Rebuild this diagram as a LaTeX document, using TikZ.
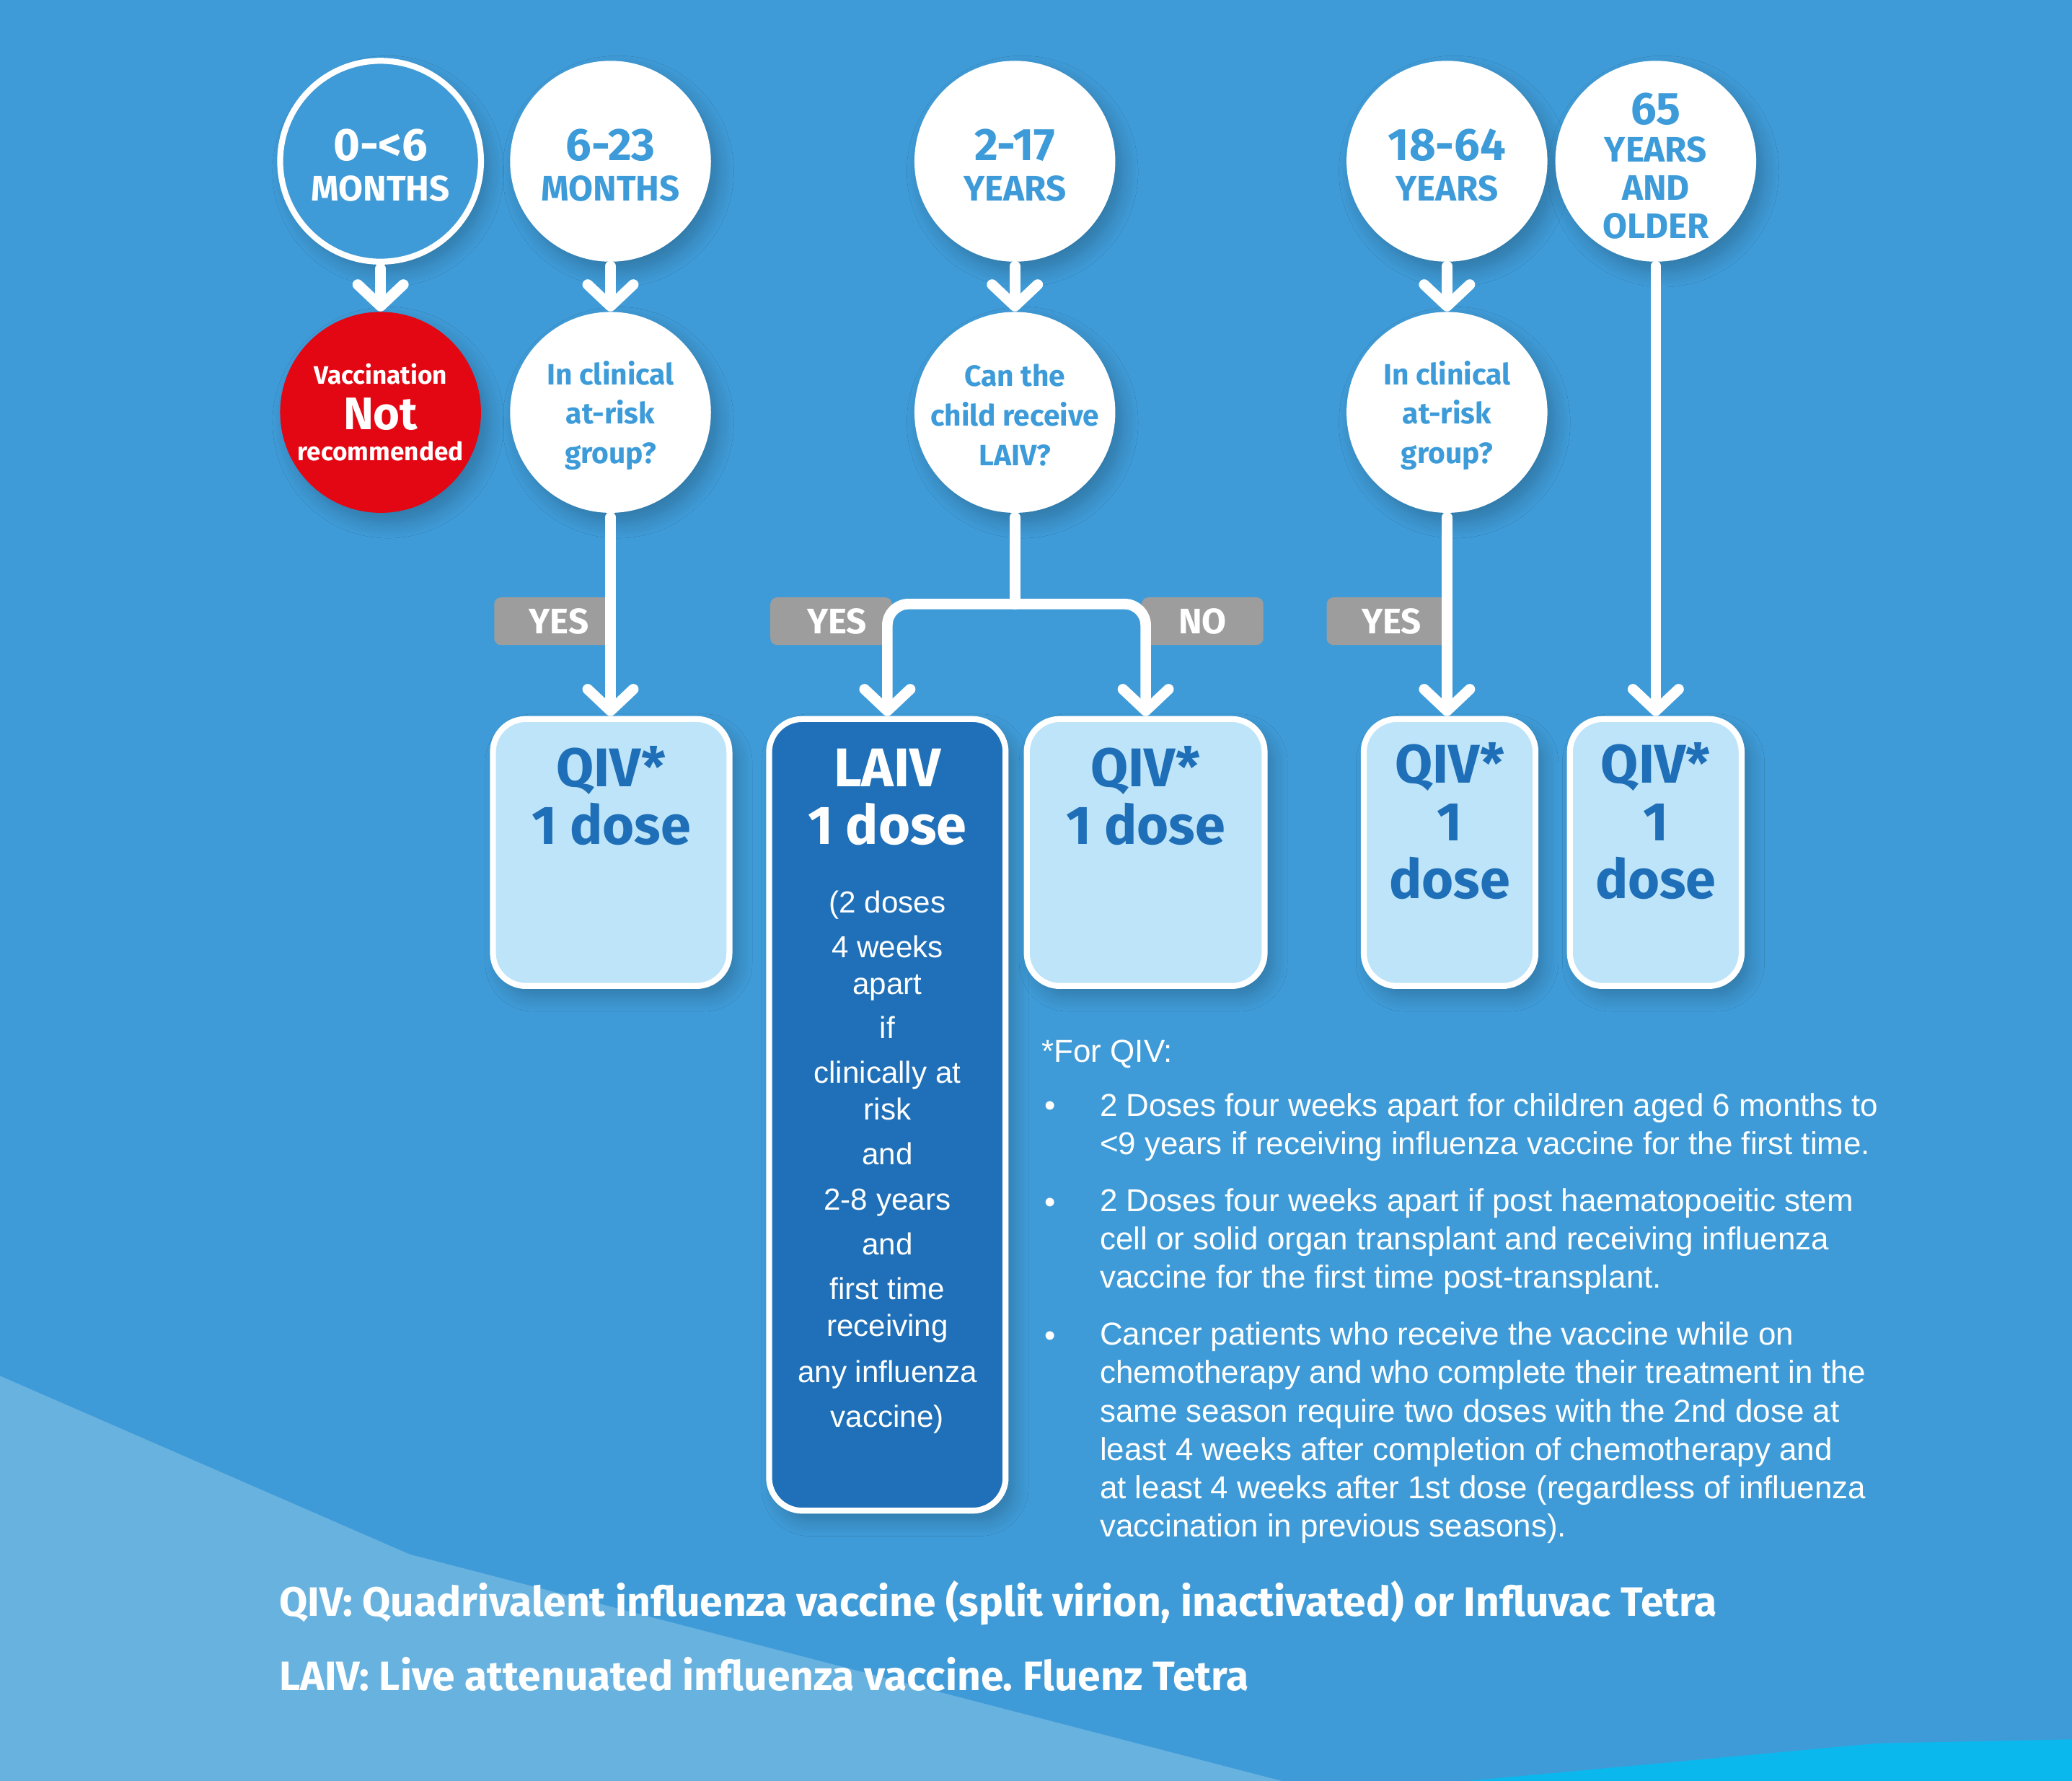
\documentclass[tikz,border=0pt]{standalone}
\usepackage{fontspec}
\setmainfont{Liberation Sans}
\newfontfamily\dinfont{Fira Sans}
\usetikzlibrary{arrows.meta,shadows.blur}
\AtBeginDocument{\lineskiplimit=-100pt\relax\frenchspacing}
\newdimen\pxu \pxu=0.52134pt
\newcommand\fsz[2]{\fontsize{#1}{#2}\selectfont}
\newcommand\up[1]{\rule{0pt}{#1}}
\definecolor{bgblue}{RGB}{63,155,215}
\definecolor{clight}{RGB}{104,178,224}
\definecolor{ccyan}{RGB}{11,184,238}
\definecolor{cbox}{RGB}{190,228,249}
\definecolor{cdark}{RGB}{31,112,184}
\definecolor{cdtext}{RGB}{30,111,183}
\definecolor{cblue}{RGB}{60,155,216}
\definecolor{cgray}{RGB}{157,157,157}
\definecolor{cred}{RGB}{227,6,19}
\begin{document}
\begin{tikzpicture}[x=0.018323cm, y=-0.018323cm,
  sh/.style={blur shadow={shadow xshift=3pt, shadow yshift=-4pt, shadow blur steps=8, shadow opacity=22, shadow blur radius=6pt}},
  age/.style={circle, minimum size=152*\pxu, inner sep=0pt, fill=white, text=cblue, align=center, font=\dinfont\bfseries\fsz{14}{16}, sh},
  agering/.style={age, fill=bgblue, draw=white, line width=4.5*\pxu, text=white},
  ques/.style={age, font=\dinfont\bfseries\fsz{11.6}{15.6}},
  redc/.style={age, fill=cred, text=white, font=\dinfont\bfseries\fsz{10}{12.3}},
  box/.style={rectangle, rounded corners=25*\pxu, draw=white, line width=4.5*\pxu, fill=cbox, minimum height=202*\pxu, inner sep=0pt, sh},
  darkbox/.style={box, fill=cdark},
  boxtxt/.style={anchor=base, align=center, text=cdtext, inner sep=0pt, font=\dinfont\bfseries\fsz{21.5}{22.8}},
  tag/.style={rectangle, rounded corners=5*\pxu, fill=cgray, text=white, font=\dinfont\bfseries\fsz{14}{14}, minimum height=36*\pxu, inner sep=0pt},
  conn/.style={draw=white, line width=8*\pxu, line cap=round, line join=round},
  arr/.style={conn, -{Straight Barb[length=8.5pt,width=18pt,round]}, shorten <=3*\pxu},
  bodytxt/.style={text=white, inner sep=0pt, font=\fsz{12.5}{15.1}},
  legend/.style={anchor=base west, text=white, inner sep=0pt, font=\dinfont\bfseries\fsz{16.2}{16}}
]
% background
\fill[bgblue] (0,0) rectangle (1568,1347.5);
\fill[clight] (0,1041) -- (310,1176) -- (970,1347.5) -- (0,1347.5) -- cycle;
\fill[ccyan] (1110,1347.5) -- (1420,1319) -- (1568,1316) -- (1568,1347.5) -- cycle;
\useasboundingbox (0,0) rectangle (1568,1347.5);

% age circles
\node[agering] (c1) at (288,122) {{\fsz{18}{16}\up{15.5pt}0-<6}\\MONTHS};
\node[age] (c2) at (462,122) {{\fsz{18}{16}\up{15.5pt}6-23}\\MONTHS};
\node[age] (c3) at (768,122) {{\fsz{18}{16}\up{15.5pt}2-17}\\YEARS};
\node[age] (c4) at (1095,122) {{\fsz{18}{16}\up{15.5pt}18-64}\\YEARS};
\node[age, font=\dinfont\bfseries\fsz{14}{15}] (c5) at (1253,122) {{\fsz{18}{15}\up{16pt}65}\\YEARS\\AND\\OLDER};

% second row
\node[redc] (r1) at (288,312) {Vaccination\\[5.6pt]{\fsz{18}{12.3}Not}\\recommended};
\node[ques] (q1) at (462,312) {\up{11.8pt}In clinical\\at-risk\\group?};
\node[ques] (q2) at (768,312) {\up{10.9pt}Can the\\child receive\\LAIV?};
\node[ques] (q3) at (1095,312) {\up{11.8pt}In clinical\\at-risk\\group?};

% result boxes
\node[box, minimum width=179*\pxu] (b1) at (462.5,645) {};
\node[darkbox, minimum width=179*\pxu, minimum height=599*\pxu] (b2) at (671.5,843.5) {};
\node[box, minimum width=180*\pxu] (b3) at (867,645) {};
\node[box, minimum width=130*\pxu] (b4) at (1097,645) {};
\node[box, minimum width=130*\pxu] (b5) at (1253,645) {};

\node[boxtxt] (b1t) at (462.5,639) {QIV*\\1 dose};
\node[boxtxt, text=white] (b2t) at (671.5,639) {LAIV\\1 dose};
\node[boxtxt] (b3t) at (867,639) {QIV*\\1 dose};
\node[boxtxt] (b4t) at (1097,680) {QIV*\\1\\dose};
\node[boxtxt] (b5t) at (1253,680) {QIV*\\1\\dose};
\node[anchor=base, align=center, text=white, inner sep=0pt, font=\fsz{12}{14.6}] (b2n) at (671.5,1080)
  {(2 doses\\[3.1pt]4 weeks\\apart\\[2.6pt]if\\[3.1pt]clinically at\\risk\\[3.1pt]and\\[3.1pt]2-8 years\\[3.1pt]and\\[3.1pt]first time\\receiving\\[3.6pt]any influenza\\[3.1pt]vaccine)};

% yes / no tags
\node[tag, minimum width=90*\pxu] (y1) at (419,470) {\hspace{8\pxu}YES};
\node[tag, minimum width=92*\pxu] (y2) at (629,470) {\hspace{9\pxu}YES};
\node[tag, minimum width=92*\pxu] (n1) at (910,470) {NO\hspace{6\pxu}};
\node[tag, minimum width=92*\pxu] (y3) at (1050,470) {\hspace{6\pxu}YES};

% connectors
\coordinate (split) at (768,457);
\draw[arr] (c1) -- (r1);
\draw[arr] (c2) -- (q1);
\draw[arr] (c3) -- (q2);
\draw[arr] (c4) -- (q3);
\draw[arr] (q1.south) -- (q1.south |- b1.north);
\draw[arr] (q3.south) -- (q3.south |- b4.north);
\draw[arr] (c5) -- (b5);
\draw[conn, shorten <=3*\pxu] (q2) -- (split);
\draw[arr, shorten <=0pt, rounded corners=16*\pxu] (split) -| (b2.north);
\draw[arr, shorten <=0pt, rounded corners=16*\pxu] (split) -| (b3.north);

% footnote
\node[bodytxt, anchor=base west] (fnh) at (788,803.6) {*For QIV:};
\node[bodytxt, anchor=base] (bu1) at (795,844.6) {•};
\node[bodytxt, anchor=base] (bu2) at (795,917.6) {•};
\node[bodytxt, anchor=base] (bu3) at (795,1018.6) {•};
\node[bodytxt, anchor=base west, align=left] (fn1) at (832,873.6)
  {2 Doses four weeks apart for children aged 6 months to\\<9 years if receiving influenza vaccine for the first time.};
\node[bodytxt, anchor=base west, align=left] (fn2) at (832,974.6)
  {2 Doses four weeks apart if post haematopoeitic stem\\cell or solid organ transplant and receiving influenza\\vaccine for the first time post-transplant.};
\node[bodytxt, anchor=base west, align=left] (fn3) at (832,1162.6)
  {Cancer patients who receive the vaccine while on\\chemotherapy and who complete their treatment in the\\same season require two doses with the 2nd dose at\\least 4 weeks after completion of chemotherapy and\\at least 4 weeks after 1st dose (regardless of influenza\\vaccination in previous seasons).};

% legend
\node[legend] (lg1) at (211,1223) {QIV: Quadrivalent influenza vaccine (split virion, inactivated) or Influvac Tetra};
\node[legend] (lg2) at (211,1279) {LAIV: Live attenuated influenza vaccine. Fluenz Tetra};
\end{tikzpicture}
\end{document}
